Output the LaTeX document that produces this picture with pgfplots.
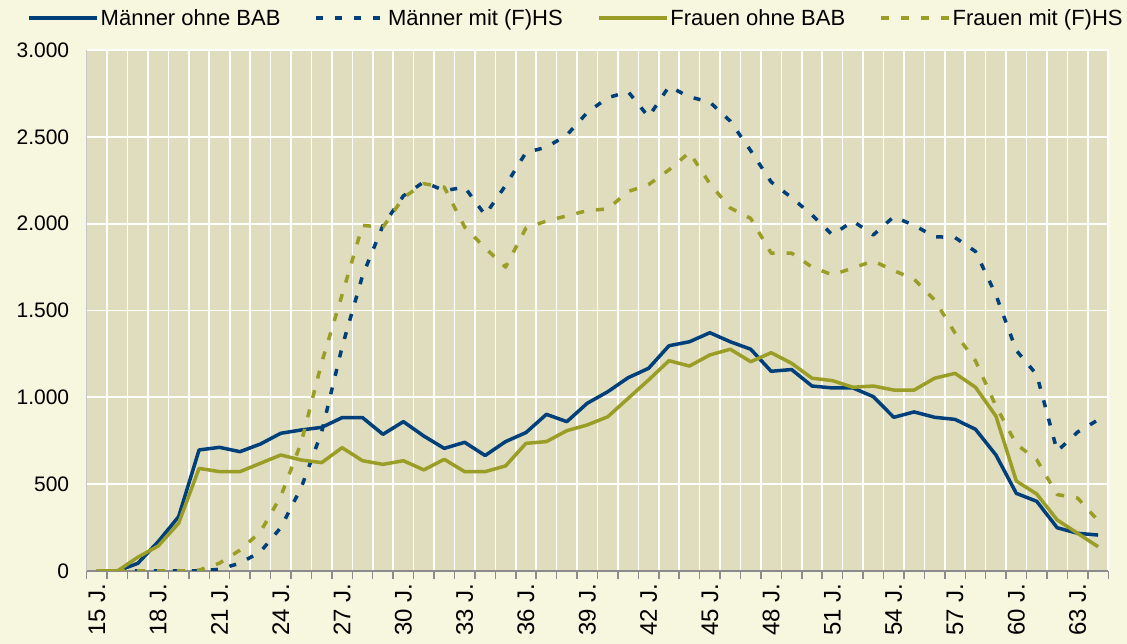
\documentclass[border=0pt]{standalone}
\usepackage{fontspec}
\setmainfont{Liberation Sans}
\usepackage{pgfplots}
\usepackage{pgfplotstable}
\pgfplotsset{compat=1.18}
\definecolor{outerbg}{RGB}{247,246,223}
\definecolor{plotbg}{RGB}{224,220,190}
\definecolor{mblue}{RGB}{0,64,122}
\definecolor{fgreen}{RGB}{155,158,38}
\definecolor{axgray}{RGB}{140,140,140}

\pgfplotstableread{
age mo md fo fd
15 0 0 0 0
16 0 0 0 0
17 44 0 79 0
18 169 0 144 0
19 313 0 275 0
20 697 0 591 5
21 712 10 572 45
22 687 45 572 120
23 731 110 620 225
24 793 250 668 430
25 812 480 639 740
26 827 800 624 1200
27 883 1290 710 1590
28 883 1700 635 1990
29 787 1990 614 1980
30 860 2160 635 2150
31 777 2240 582 2230
32 706 2190 643 2210
33 741 2210 572 1980
34 665 2050 572 1860
35 745 2220 605 1750
36 797 2410 735 1975
37 902 2440 745 2015
38 860 2510 808 2045
39 966 2640 841 2075
40 1032 2725 888 2085
41 1113 2760 994 2185
42 1167 2615 1100 2225
43 1297 2790 1211 2310
44 1320 2730 1180 2410
45 1372 2700 1244 2230
46 1320 2590 1277 2090
47 1277 2420 1205 2030
48 1150 2240 1257 1830
49 1160 2150 1196 1830
50 1065 2050 1110 1750
51 1054 1935 1096 1705
52 1054 2015 1058 1745
53 1004 1935 1065 1785
54 885 2040 1042 1730
55 916 1990 1042 1680
56 885 1925 1110 1560
57 873 1920 1138 1370
58 816 1840 1058 1210
59 668 1590 892 950
60 447 1270 518 730
61 401 1130 443 640
62 249 690 294 440
63 217 800 217 420
64 207 870 140 290
}\data

\begin{document}
\begin{tikzpicture}
\path[use as bounding box, fill=outerbg] (-86.7pt,-73pt) rectangle (1040.3pt,571pt);
\begin{axis}[
  at={(0pt,0pt)}, anchor=south west,
  scale only axis, width=1021.6pt, height=521pt,
  xmin=14.5, xmax=64.5, ymin=0, ymax=3000,
  axis background/.style={fill=plotbg},
  axis lines*=left,
  x axis line style={axgray, line width=1.5pt},
  y axis line style={axgray!50, line width=0.6pt},
  xtick={15,18,...,63},
  xticklabels={15 J.,18 J.,21 J.,24 J.,27 J.,30 J.,33 J.,36 J.,39 J.,42 J.,45 J.,48 J.,51 J.,54 J.,57 J.,60 J.,63 J.},
  minor xtick={14.5,15.5,...,64.5},
  major tick length=0pt,
  minor tick length=8pt,
  tick align=outside,
  tick style={axgray, line width=1.5pt},
  xminorgrids=true, minor x grid style={white, line width=1.6pt},
  ytick={0,500,...,3000},
  yticklabels={0,500,1.000,1.500,2.000,2.500,3.000},
  ymajorgrids=true, major y grid style={white, line width=1.8pt},
  xticklabel style={yshift=-9pt, rotate=90, anchor=east, font=\fontsize{24}{28}\selectfont},
  yticklabel style={font=\fontsize{21}{25}\selectfont, xshift=-14pt},
  legend columns=4,
  legend style={at={(-0.0584,1.0614)}, anchor=west, draw=none, fill=none, inner sep=0pt,
    font=\fontsize{22}{26}\selectfont,
    /tikz/every even column/.append style={column sep=32pt}, cells={anchor=west}},
  legend image code/.code={\draw[#1] (0pt,0pt) -- (68pt,0pt);},
  every axis plot/.append style={line width=3.5pt, line join=round},
]
\addplot[mblue] table[x=age, y=mo] {\data};
\addlegendentry{Männer ohne BAB}
\addplot[mblue, dash pattern=on 7pt off 12pt] table[x=age, y=md] {\data};
\addlegendentry{Männer mit (F)HS}
\addplot[fgreen] table[x=age, y=fo] {\data};
\addlegendentry{Frauen ohne BAB}
\addplot[fgreen, dash pattern=on 8pt off 12pt] table[x=age, y=fd] {\data};
\addlegendentry{Frauen mit (F)HS}
\end{axis}
\end{tikzpicture}
\end{document}
